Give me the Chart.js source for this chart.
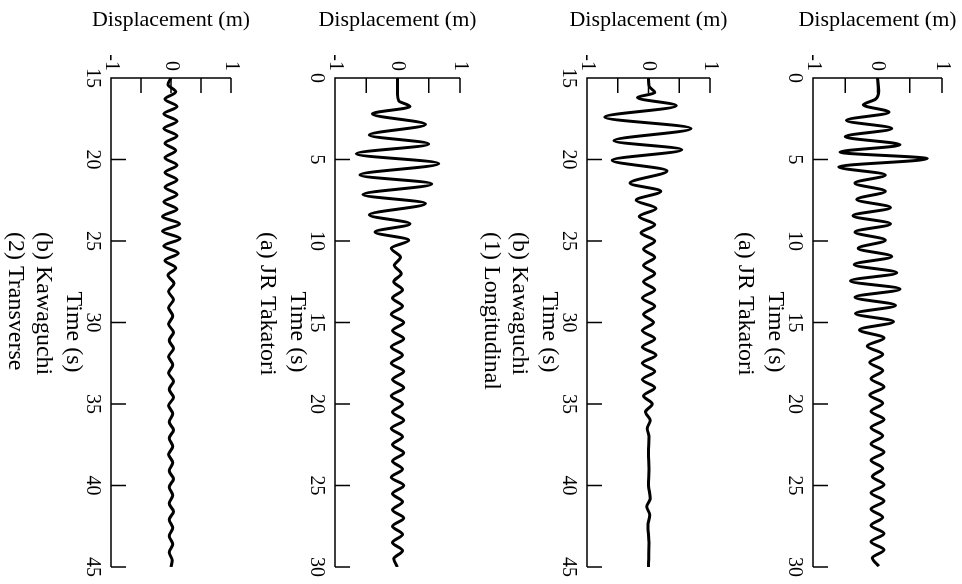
<!DOCTYPE html>
<html>
<head>
<meta charset="utf-8">
<script src="https://cdn.jsdelivr.net/npm/chart.js@4.4.0/dist/chart.umd.min.js"></script>
<style>
  html, body { margin: 0; padding: 0; background: #fff; }
  body { width: 962px; height: 584px; position: relative; overflow: hidden; }
  .panel { position: absolute; top: 0; transform-origin: 0 0; transform: rotate(90deg); }
  canvas { display: block; }
</style>
</head>
<body>
<div class="panel" id="p1"><canvas id="c1" width="584" height="250"></canvas></div>
<div class="panel" id="p2"><canvas id="c2" width="584" height="250"></canvas></div>
<div class="panel" id="p3"><canvas id="c3" width="584" height="250"></canvas></div>
<div class="panel" id="p4"><canvas id="c4" width="584" height="250"></canvas></div>
<script>
// (a) JR Takatori, first record (0-30 s)
const takatori1Time = [0, 0.8, 1.3, 1.65, 2.1, 2.6, 3.1, 3.6, 4.1, 4.55, 4.95, 5.45, 5.95, 6.45, 6.95, 7.45, 7.95, 8.45, 8.95, 9.45, 9.95,
  10.45, 10.95, 11.45, 11.95, 12.45, 12.95, 13.45, 13.95, 14.45, 14.95, 15.45, 15.95, 16.45, 16.95, 17.45, 17.95, 18.45, 18.95,
  19.45, 19.95, 20.45, 20.95, 21.45, 21.95, 22.45, 22.95, 23.45, 23.95, 24.45, 24.95, 25.45, 25.95, 26.45, 26.95, 27.45, 27.95,
  28.45, 28.95, 29.45, 29.95]
const takatori1Disp = [0, 0.02, -0.03, -0.22, 0.18, -0.48, 0.22, -0.5, 0.35, -0.58, 0.77, -0.6, 0.12, -0.35, 0.12, -0.32, 0.2, -0.38, 0.2, -0.35, 0.12,
  -0.3, 0.22, -0.36, 0.3, -0.42, 0.35, -0.35, 0.28, -0.34, 0.25, -0.28, 0.1, -0.16, 0.08, -0.12, 0.08, -0.1, 0.1,
  -0.12, 0.08, -0.1, 0.1, -0.1, 0.08, -0.1, 0.1, -0.1, 0.08, -0.08, 0.1, -0.1, 0.1, -0.1, 0.08, -0.1, 0.1,
  -0.1, 0.1, -0.08, 0.02]

// (b) Kawaguchi, (1) Longitudinal (15-45 s)
const kawaLongTime = [15, 15.5, 15.9, 16.2, 16.7, 17.4, 18.1, 18.85, 19.4, 20.05, 20.7, 21.45, 21.95, 22.5, 23, 23.5, 24, 24.5, 25, 25.5,
  26, 26.5, 27, 27.5, 28, 28.5, 29, 29.5, 30, 30.5, 31, 31.5, 32, 32.5, 33, 33.5, 34, 34.5, 35, 35.5, 36, 36.5, 37,
  38, 39, 40, 40.8, 41.3, 41.8, 42.5, 43.5, 45]
const kawaLongDisp = [0, 0.01, 0.1, -0.18, 0.45, -0.71, 0.69, -0.56, 0.54, -0.59, 0.3, -0.3, 0.2, -0.2, 0.12, -0.15, 0.1, -0.12, 0.1, -0.08,
  0.1, -0.08, 0.1, -0.08, 0.1, -0.1, 0.1, -0.08, 0.08, -0.1, 0.1, -0.1, 0.12, -0.1, 0.1, -0.1, 0.1, -0.08, 0.06, -0.05, 0.03, -0.02, 0.01,
  0, 0.01, 0, 0.03, -0.03, 0.02, -0.01, 0.01, 0]

// (a) JR Takatori, second record (0-30 s)
const takatori2Time = [0, 1, 1.4, 1.75, 2.2, 2.85, 3.5, 4.05, 4.65, 5.25, 5.95, 6.5, 7.15, 7.7, 8.4, 8.95, 9.45, 9.95, 10.45, 11,
  11.5, 12, 12.5, 13, 13.5, 14, 14.5, 15, 15.5, 16, 16.5, 17, 17.5, 18, 18.5, 19, 19.5, 20, 20.5, 21, 21.5, 22, 22.5,
  23, 23.5, 24, 24.5, 25, 25.5, 26, 26.5, 27, 27.5, 28, 28.5, 29, 29.5, 30]
const takatori2Disp = [0, 0, 0.02, 0.2, -0.4, 0.45, -0.45, 0.5, -0.66, 0.66, -0.6, 0.55, -0.55, 0.45, -0.45, 0.2, -0.36, 0.18, -0.1, 0.05,
  -0.05, 0.06, -0.06, 0.08, -0.08, 0.08, -0.1, 0.1, -0.08, 0.1, -0.1, 0.08, -0.1, 0.1, -0.08, 0.1, -0.1, 0.08, -0.08, 0.1, -0.1, 0.08, -0.08,
  0.1, -0.08, 0.08, -0.1, 0.1, -0.08, 0.08, -0.08, 0.1, -0.08, 0.08, -0.08, 0.08, -0.06, 0]

// (b) Kawaguchi, (2) Transverse (15-45 s)
const kawaTransTime = [15, 15.4, 15.85, 16.3, 16.75, 17.2, 17.65, 18.1, 18.55, 19, 19.45, 19.9, 20.35, 20.8, 21.25, 21.7, 22.15, 22.6,
  23.05, 23.5, 23.95, 24.4, 24.85, 25.3, 25.75, 26.2, 26.65, 27.1, 27.6, 28.1, 28.6, 29.1, 29.6, 30.1, 30.6, 31.1, 31.6, 32.1, 32.6,
  33.1, 33.6, 34.1, 34.6, 35.1, 35.6, 36.1, 36.6, 37.1, 37.6, 38.1, 38.6, 39.1, 39.6, 40.1, 40.6, 41.1, 41.6, 42.1, 42.6, 43.1,
  43.6, 44.1, 44.6, 45]
const kawaTransDisp = [0, -0.05, 0.08, -0.1, 0.1, -0.12, 0.1, -0.12, 0.1, -0.1, 0.08, -0.1, 0.1, -0.1, 0.1, -0.1, 0.1, -0.12,
  0.1, -0.14, 0.14, -0.14, 0.15, -0.12, 0.12, -0.1, 0.08, -0.05, 0.05, -0.04, 0.04, -0.04, 0.03, -0.04, 0.04, -0.03, 0.04, -0.04, 0.03,
  -0.04, 0.04, -0.03, 0.04, -0.04, 0.03, -0.03, 0.04, -0.03, 0.03, -0.04, 0.03, -0.03, 0.04, -0.03, 0.03, -0.03, 0.04, -0.03, 0.03, -0.03,
  0.03, -0.03, 0.02, 0]

const dispTicks = [-1, 0, 1]
const serif = '"Liberation Serif", "Times New Roman", serif'

Chart.defaults.color = "#000"
Chart.defaults.font.family = serif

// axis lines with inward ticks + captions under the time axis
const axesPlugin = {
  id: "axes",
  afterDraw(chart, args, opts) {
    const { ctx, chartArea, scales } = chart
    const { left, right, top, bottom } = chartArea
    ctx.save()
    ctx.strokeStyle = "#000"
    ctx.lineWidth = 1.5
    ctx.beginPath()
    ctx.moveTo(left, top)
    ctx.lineTo(left, bottom)
    ctx.lineTo(right, bottom)
    scales.y.ticks.forEach((t) => {
      const py = scales.y.getPixelForValue(t.value)
      ctx.moveTo(left, py)
      ctx.lineTo(left + 15, py)
    })
    scales.x.ticks.forEach((t) => {
      const px = scales.x.getPixelForValue(t.value)
      ctx.moveTo(px, bottom)
      ctx.lineTo(px, bottom - 15)
    })
    ctx.stroke()

    ctx.fillStyle = "#000"
    ctx.font = "24px " + serif
    ctx.textBaseline = "middle"
    ctx.textAlign = "center"
    ctx.fillText("Time (s)", 332, bottom + 38)
    ctx.textAlign = "left"
    opts.captions.forEach((c, i) => ctx.fillText(c, 232, bottom + 68 + 28 * i))
    ctx.restore()
  },
}

// one rotated panel: plot spans page x from minusOne to plusOne
function makePanel(id, times, disp, tMin, tMax, minusOne, plusOne, captions) {
  const h = 250
  const pageRight = plusOne + 20
  const div = document.getElementById("p" + id)
  div.style.left = pageRight + "px"
  const xHeight = h - 20 - (plusOne - minusOne)

  new Chart(document.getElementById("c" + id), {
    type: "line",
    data: {
      datasets: [
        {
          data: times.map((t, i) => ({ x: t, y: disp[i] })),
          borderColor: "#000",
          borderWidth: 3,
          pointRadius: 0,
          cubicInterpolationMode: "monotone",
          fill: false,
        },
      ],
    },
    options: {
      responsive: false,
      animation: false,
      devicePixelRatio: 1,
      layout: { padding: { top: 20, left: 0, right: 14, bottom: 0 } },
      scales: {
        x: {
          type: "linear",
          min: tMin,
          max: tMax,
          ticks: { stepSize: 5, maxRotation: 0, padding: 7, font: { size: 20 } },
          grid: { display: false, drawTicks: false },
          border: { display: false },
          afterFit: (s) => { s.height = xHeight },
        },
        y: {
          min: -1,
          max: 1,
          ticks: {
            stepSize: 0.5,
            padding: 7,
            font: { size: 20 },
            callback: (v) => (dispTicks.includes(v) ? String(v) : ""),
          },
          grid: { display: false, drawTicks: false },
          border: { display: false },
          title: { display: true, text: "Displacement (m)", font: { size: 22 }, padding: { top: 7, bottom: 0 } },
          afterFit: (s) => { s.width = 78 },
        },
      },
      plugins: {
        legend: { display: false },
        tooltip: { enabled: false },
        axes: { captions: captions },
      },
    },
    plugins: [axesPlugin],
  })
}

makePanel(1, takatori1Time, takatori1Disp, 0, 30, 813, 942, ["(a) JR Takatori"])
makePanel(2, kawaLongTime, kawaLongDisp, 15, 45, 587, 710, ["(b) Kawaguchi", "(1) Longitudinal"])
makePanel(3, takatori2Time, takatori2Disp, 0, 30, 335, 460, ["(a) JR Takatori"])
makePanel(4, kawaTransTime, kawaTransDisp, 15, 45, 111, 231, ["(b) Kawaguchi", "(2) Transverse"])
</script>
</body>
</html>
